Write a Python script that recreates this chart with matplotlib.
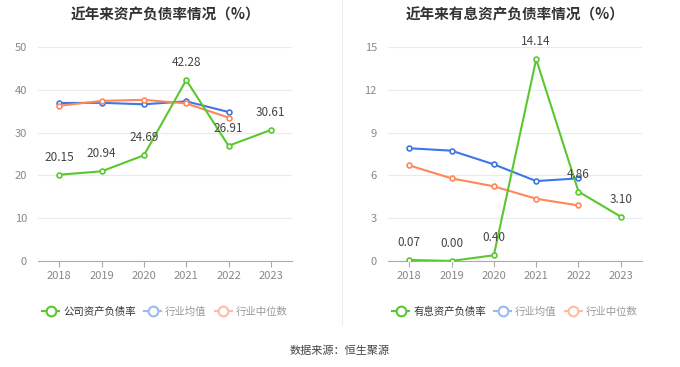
import matplotlib.pyplot as plt
from matplotlib.lines import Line2D

plt.rcParams['font.family'] = ['Noto Sans CJK SC', 'DejaVu Sans']

years = ['2018', '2019', '2020', '2021', '2022', '2023']

# 资产负债率
company_ratio = [20.15, 20.94, 24.69, 42.28, 26.91, 30.61]
industry_avg = [36.9, 36.95, 36.6, 37.3, 34.8]
industry_median = [36.25, 37.4, 37.65, 36.8, 33.5]

# 有息资产负债率
company_debt = [0.07, 0.00, 0.40, 14.14, 4.86, 3.10]
industry_debt_avg = [7.9, 7.73, 6.77, 5.6, 5.79]
industry_debt_median = [6.7, 5.79, 5.23, 4.36, 3.89]

GREEN = '#5BC72E'
BLUE = '#3D77E5'
ORANGE = '#FF8759'
LIGHT_BLUE = '#9CB9F2'
LIGHT_ORANGE = '#FFBCA5'


def draw_panel(ax, title, main, avg, med, ymax, step, main_label):
    x = list(range(len(years)))
    ax.set_xlim(-0.5, len(years) - 0.5)
    ax.set_ylim(0, ymax)
    ax.set_yticks(range(0, ymax + 1, step))
    ax.grid(axis='y', color='#E6EAF2', linewidth=0.8)
    ax.set_axisbelow(True)
    for s in ['top', 'right', 'left']:
        ax.spines[s].set_visible(False)
    ax.spines['bottom'].set_color('#AAAAAA')
    ax.tick_params(axis='y', length=0, colors='#888888', labelsize=8, pad=8)
    ax.tick_params(axis='x', length=4, color='#AAAAAA', colors='#888888', labelsize=8)
    ax.set_xticks(x)
    ax.set_xticklabels(years)

    mk = dict(marker='o', markersize=3.5, markerfacecolor='white', markeredgewidth=1.2, linewidth=1.5)
    ax.plot(x[:len(avg)], avg, color=BLUE, **mk)
    ax.plot(x[:len(med)], med, color=ORANGE, **mk)
    ax.plot(x, main, color=GREEN, zorder=5, **mk)
    for xi, v in zip(x, main):
        ax.annotate(f'{v:.2f}', (xi, v), xytext=(0, 8), textcoords='offset points',
                    ha='center', va='bottom', fontsize=8.5, color='#444444', zorder=6)
    ax.set_title(title, fontsize=10.5, fontweight='bold', color='#333333', pad=20)

    handles = [
        Line2D([], [], color=GREEN, marker='o', markersize=7, markerfacecolor='white', markeredgewidth=1.5, linewidth=1.5),
        Line2D([], [], color=LIGHT_BLUE, marker='o', markersize=7, markerfacecolor='white', markeredgewidth=1.5, linewidth=1.5),
        Line2D([], [], color=LIGHT_ORANGE, marker='o', markersize=7, markerfacecolor='white', markeredgewidth=1.5, linewidth=1.5),
    ]
    leg = ax.legend(handles, [main_label, '行业均值', '行业中位数'], loc='upper center',
                    bbox_to_anchor=(0.5, -0.17), ncol=3, frameon=False, fontsize=7.5,
                    handlelength=1.6, handletextpad=0.4, columnspacing=0.8)
    for t, c in zip(leg.get_texts(), ['#333333', '#999999', '#999999']):
        t.set_color(c)


fig = plt.figure(figsize=(6.8, 3.67), dpi=100)
ax1 = fig.add_axes([0.056, 0.289, 0.3735, 0.583])
ax2 = fig.add_axes([0.5706, 0.289, 0.3735, 0.583])

draw_panel(ax1, '近年来资产负债率情况（%）', company_ratio, industry_avg, industry_median, 50, 10, '公司资产负债率')
draw_panel(ax2, '近年来有息资产负债率情况（%）', company_debt, industry_debt_avg, industry_debt_median, 15, 3, '有息资产负债率')

fig.add_artist(Line2D([0.503, 0.503], [0.115, 1.0], color='#EEEEEE', linewidth=0.8))
fig.text(0.5, 0.043, '数据来源：恒生聚源', ha='center', va='center', fontsize=8, color='#444444')

fig.savefig('out.png', dpi=100, facecolor='white')
